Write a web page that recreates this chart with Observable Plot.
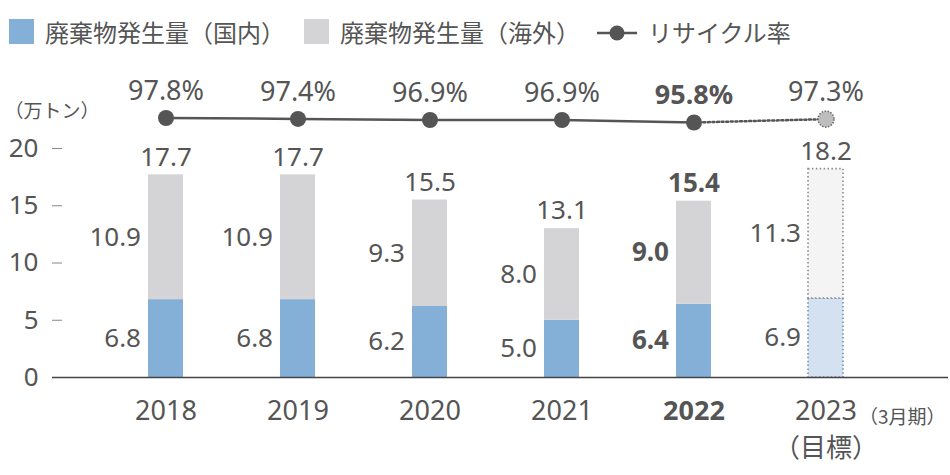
<!DOCTYPE html>
<html>
<head>
<meta charset="utf-8">
<script src="https://cdn.jsdelivr.net/npm/d3@7"></script>
<script src="https://cdn.jsdelivr.net/npm/@observablehq/plot@0.6"></script>
<style>
  body { margin: 0; background: #fff; color: #555; font-family: "Noto Sans", "Noto Sans CJK JP", sans-serif; }
  #wrap { position: relative; width: 950px; height: 475px; }
  #legend { position: relative; height: 64px; font-family: "Noto Sans CJK JP", sans-serif; font-size: 24px; color: #555; }
  #legend .sw { position: absolute; top: 19px; width: 25px; height: 25px; }
  #legend .lt { position: absolute; top: 32px; transform: translateY(-50%); white-space: nowrap; line-height: 1; }
  #legend svg { position: absolute; }
  #chart { position: relative; height: 411px; }
  #chart > svg { position: absolute; left: 0; top: 0; }
</style>
</head>
<body>
<div id="wrap">
  <div id="legend"></div>
  <div id="chart"></div>
</div>
<script>
// Waste generated (10k tonnes) and recycling rate (%), by fiscal year
const years = ["2018", "2019", "2020", "2021", "2022", "2023"];
const domestic = [6.8, 6.8, 6.2, 5.0, 6.4, 6.9];
const overseas = [10.9, 10.9, 9.3, 8.0, 9.0, 11.3];
const totals = [17.7, 17.7, 15.5, 13.1, 15.4, 18.2];
const rates = [97.8, 97.4, 96.9, 96.9, 95.8, 97.3];
const yTicks = [0, 5, 10, 15, 20];

const highlightYear = "2022";   // latest actual, shown in bold
const targetYear = "2023";      // target year, drawn dotted
const seriesNames = ["廃棄物発生量（国内）", "廃棄物発生量（海外）"];
const rateName = "リサイクル率";
const unitLabel = "（万トン）";
const targetNote = "（3月期）";
const targetTag = "（目標）";

const ink = "#555";
const actualFill = ["#84b0d8", "#d4d4d6"];
const targetFill = ["#d3e1f1", "#f4f4f4"];
const targetStroke = ["#6f91b8", "#8a8a8a"];

// Long-format rows for stacking: domestic first (bottom), then overseas
const rows = years.flatMap((year, i) => [
  {year, s: 0, value: domestic[i]},
  {year, s: 1, value: overseas[i]}
]);
const totalRows = years.map((year, i) => ({year, total: totals[i]}));
const rateRows = years.map((year, i) => ({year, rate: rates[i]}));

const isTarget = d => d.year === targetYear;
const isBold = d => d.year === highlightYear;

// ---- legend ----
const legend = document.getElementById("legend");
legend.innerHTML = `
  <div class="sw" style="left:9px;background:${actualFill[0]}"></div>
  <div class="lt" style="left:45px">${seriesNames[0]}</div>
  <div class="sw" style="left:304px;background:${actualFill[1]}"></div>
  <div class="lt" style="left:340px">${seriesNames[1]}</div>
  <svg style="left:596px;top:22px" width="42" height="22">
    <line x1="1" x2="41" y1="11" y2="11" stroke="${ink}" stroke-width="2.5"/>
    <circle cx="21" cy="11" r="7.5" fill="${ink}"/>
  </svg>
  <div class="lt" style="left:648px">${rateName}</div>`;

// ---- shared layout ----
const W = 950, H = 411;
const xScale = {type: "band", domain: years, range: [99, 891], paddingInner: 0.735, paddingOuter: 0.3675, axis: null};
const font = {fontFamily: "'Noto Sans', 'Noto Sans CJK JP', sans-serif", background: "transparent", overflow: "visible", color: ink};
const cjk = "'Noto Sans CJK JP', sans-serif";

const segText = opts => Plot.stackY({
  x: "year", y: "value", text: d => d.value.toFixed(1),
  textAnchor: "end", dx: -25, fontSize: 26, fill: ink, ...opts
});

const bars = Plot.plot({
  width: W, height: H,
  marginTop: 84, marginBottom: 98, marginLeft: 62, marginRight: 2,
  style: font,
  x: xScale,
  y: {domain: [0, 20], axis: null},
  color: {type: "identity"},
  marks: [
    Plot.axisY(yTicks, {tickSize: 10, tickPadding: 14, fontSize: 26, stroke: "#888", fill: ink, tickFormat: d => String(d)}),
    Plot.text([unitLabel], {frameAnchor: "top-left", dx: -58, dy: -44, textAnchor: "start", fontSize: 19, fill: ink, fontFamily: cjk}),

    // actual stacked bars
    Plot.barY(rows.filter(d => !isTarget(d)), Plot.stackY({
      x: "year", y: "value", fill: d => actualFill[d.s]
    })),
    // target bar, dotted outline
    Plot.barY(rows.filter(isTarget), Plot.stackY({
      x: "year", y: "value", fill: d => targetFill[d.s], stroke: d => targetStroke[d.s],
      strokeWidth: 1.6, strokeDasharray: "1.5,2.4"
    })),

    Plot.ruleY([0], {stroke: "#444", strokeWidth: 1.6, insetLeft: -10}),

    // segment value labels
    Plot.text(rows.filter(d => !isBold(d)), segText({})),
    Plot.text(rows.filter(isBold), segText({fontWeight: "bold"})),

    // totals above bars
    Plot.text(totalRows.filter(d => !isBold(d)), {x: "year", y: "total", text: d => d.total.toFixed(1), dy: -17, fontSize: 26, fill: ink}),
    Plot.text(totalRows.filter(isBold), {x: "year", y: "total", text: d => d.total.toFixed(1), dy: -17, fontSize: 26, fill: ink, fontWeight: "bold"}),

    // year labels
    Plot.text(years.filter(y => y !== highlightYear), {
      x: d => d, text: d => d, frameAnchor: "bottom", lineAnchor: "top", dy: 23, fontSize: 27, fill: ink
    }),
    Plot.text([highlightYear], {
      x: d => d, text: d => d, frameAnchor: "bottom", lineAnchor: "top", dy: 23, fontSize: 27, fill: ink, fontWeight: "bold"
    }),
    Plot.text([targetYear], {
      x: d => d, text: () => targetTag, frameAnchor: "bottom", lineAnchor: "top",
      dy: 61, fontSize: 26, fill: ink, fontFamily: cjk
    }),
    Plot.text([targetYear], {
      x: d => d, text: () => targetNote, frameAnchor: "bottom", lineAnchor: "top", textAnchor: "start",
      dx: 33, dy: 33, fontSize: 19, fill: ink, fontFamily: cjk
    })
  ]
});

// Recycling-rate line, drawn on its own narrow y band above the bars
const actualRates = rateRows.filter(d => !isTarget(d));
const lastActual = actualRates[actualRates.length - 1];
const targetRates = rateRows.filter(isTarget);
const rateText = d => d.rate.toFixed(1) + "%";

const line = Plot.plot({
  width: W, height: H, margin: 0,
  style: font,
  x: xScale,
  y: {domain: [95.8, 97.8], range: [58, 53.5], axis: null},
  marks: [
    Plot.line(actualRates, {x: "year", y: "rate", stroke: ink, strokeWidth: 2.5}),
    Plot.line([lastActual, ...targetRates], {x: "year", y: "rate", stroke: ink, strokeWidth: 2.5, strokeDasharray: "2,2.6"}),
    Plot.dot(actualRates, {x: "year", y: "rate", r: 8, fill: ink}),
    Plot.dot(targetRates, {x: "year", y: "rate", r: 8, fill: "#bdbdbd", stroke: "#666", strokeWidth: 1.5, strokeDasharray: "1.5,1.5"}),
    Plot.text(rateRows.filter(d => !isBold(d)), {x: "year", y: "rate", text: rateText, dy: -27, fontSize: 27, fill: ink}),
    Plot.text(rateRows.filter(isBold), {x: "year", y: "rate", text: rateText, dy: -27, fontSize: 27, fill: ink, fontWeight: "bold"})
  ]
});

const chart = document.getElementById("chart");
chart.append(bars, line);
</script>
</body>
</html>
